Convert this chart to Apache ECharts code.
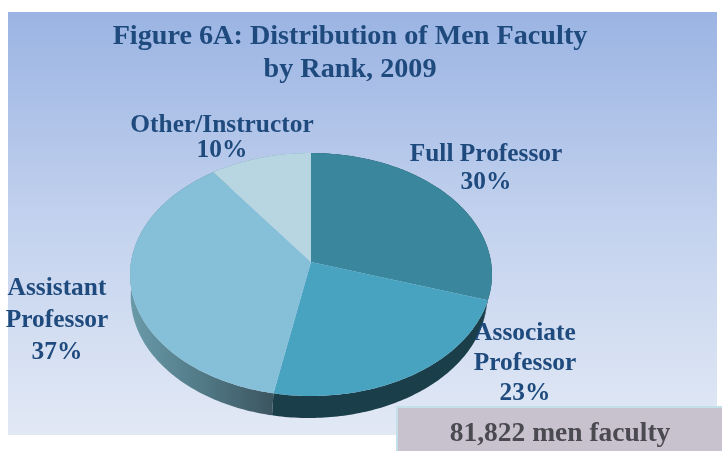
<!DOCTYPE html>
<html><head><meta charset="utf-8">
<style>html,body{margin:0;padding:0;background:#fff}#c{width:722px;height:451px}</style>
<script src="https://cdn.jsdelivr.net/npm/echarts@6/dist/echarts.min.js"></script>
</head><body><div id="c"></div>
<script>
const titleLines = ['Figure 6A: Distribution of Men Faculty', 'by Rank, 2009'];
const categories = ['Full Professor', 'Associate\nProfessor', 'Assistant\nProfessor', 'Other/Instructor'];
const shares = [30, 23, 37, 10];
const note = '81,822 men faculty';

const topColors = ['#3a879d', '#47a3bf', '#85c0d8', '#b7d6e1'];
const total = shares.reduce((a, b) => a + b, 0);
const starts = shares.map((_, i) => shares.slice(0, i).reduce((a, b) => a + b, 0));

// tilted-disc projection (perspective view of a circle)
const P = {x: 311, y: 262, rx: 180, ry: 120.2, k: 0.103};
function rim(theta, dy, sx, dx) {
  const u = Math.sin(theta), v = Math.cos(theta), w = 1 + P.k * v;
  return [P.x + (dx || 0) + (sx || 1) * P.rx * u / w, P.y + dy - P.ry * v / w];
}
function arc(a, b, dy, sx, dx) {
  const n = Math.max(2, Math.ceil((b - a) * 60)), pts = [];
  for (let i = 0; i <= n; i++) pts.push(rim(a + (b - a) * i / n, dy, sx, dx));
  return pts;
}
function range(i) {
  const a = starts[i] / total * Math.PI * 2;
  return [a, a + shares[i] / total * Math.PI * 2];
}
const sideFill = [
  '#1a3f4a', '#1a3f4a',
  {type: 'linear', x: 0, y: 0, x2: 1, y2: 0, colorStops: [
    {offset: 0, color: '#6a9aa9'}, {offset: 0.55, color: '#4f7683'}, {offset: 1, color: '#3c5560'}]},
  '#6a9aa9'
];
const font = {fontFamily: 'Liberation Serif', fontWeight: 'bold'};
const text = (t, x, y, size, lh, color) => ({
  type: 'text', z: 50, x, y,
  style: {text: t, ...font, fontSize: size, lineHeight: lh, fill: color, align: 'center', verticalAlign: 'middle'}
});

const anchors = [[486, 168, 28], [525, 363, 30], [57, 320, 32], [222, 138, 25]];
const labels = categories.map((c, i) =>
  text(c + '\n' + shares[i] + '%', anchors[i][0], anchors[i][1], 25.4, anchors[i][2], '#1f4a7d'));

const option = {
  animation: false,
  backgroundColor: '#ffffff',
  graphic: [
    {type: 'rect', z: -10, shape: {x: 8, y: 12, width: 709, height: 423},
     style: {fill: {type: 'linear', x: 0, y: 0, x2: 0, y2: 1, colorStops: [
       {offset: 0, color: '#9bb4e3'}, {offset: 0.5, color: '#c3d2ee'}, {offset: 1, color: '#e2e9f5'}]}}},
    {type: 'rect', z: 40, shape: {x: 397, y: 407, width: 335, height: 54},
     style: {fill: '#c8c2ce', stroke: '#c3e0e8', lineWidth: 2}},
    text(titleLines.join('\n'), 350, 53, 28.2, 33, '#1f4a7d'),
    ...labels,
    text(note, 560, 434, 27.5, 30, '#4a4a50')
  ],
  series: [
    {type: 'custom', coordinateSystem: 'none', z: 2, data: shares,
     renderItem: (params) => {
       const [a, b] = range(params.dataIndex);
       const pts = arc(a, b, 0).concat(arc(a, b, 22, 0.985, -2).reverse());
       return {type: 'polygon', shape: {points: pts}, style: {fill: sideFill[params.dataIndex]}};
     }},
    {type: 'custom', coordinateSystem: 'none', z: 3, data: shares,
     renderItem: (params) => {
       const [a, b] = range(params.dataIndex);
       const pts = [[P.x, P.y]].concat(arc(a, b, 0));
       return {type: 'polygon', shape: {points: pts}, style: {fill: topColors[params.dataIndex]}};
     }}
  ]
};
echarts.init(document.getElementById('c'), null, {renderer: 'canvas'}).setOption(option);
</script></body></html>
